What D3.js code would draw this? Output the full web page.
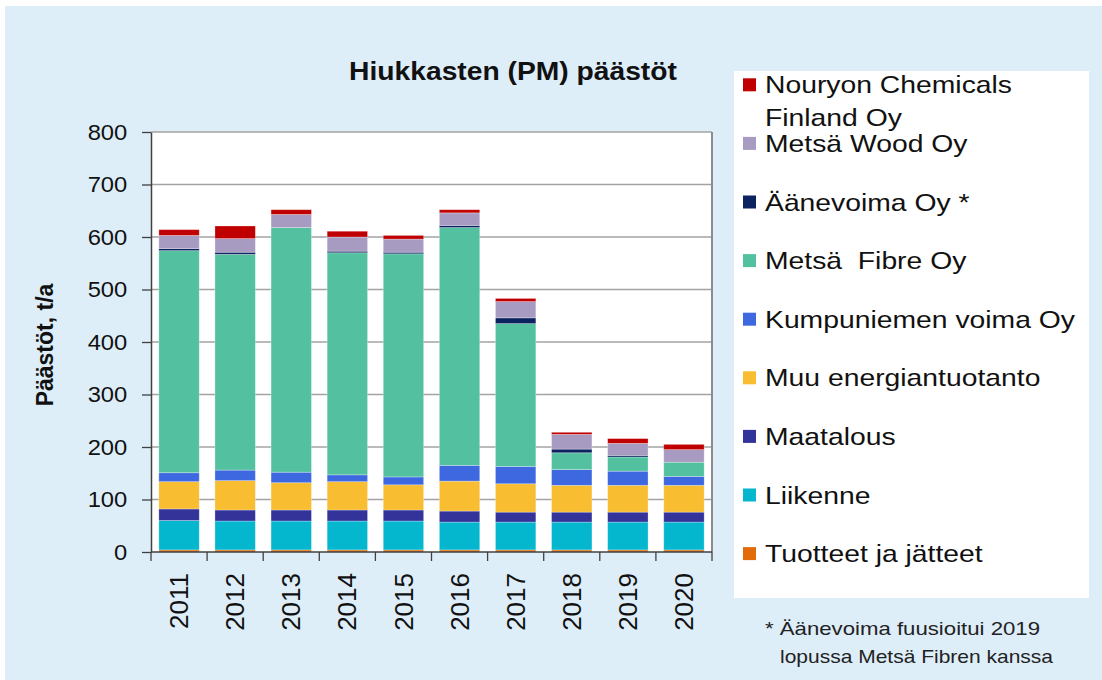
<!DOCTYPE html>
<html>
<head>
<meta charset="utf-8">
<script src="https://cdn.jsdelivr.net/npm/d3@7"></script>
<style>
  html, body { margin: 0; padding: 0; background: #ffffff; }
  svg { display: block; font-family: "Liberation Sans", Arial, sans-serif; }
</style>
</head>
<body>
<svg id="chart" width="1102" height="680"></svg>
<script>
// ---- data ----
const years = ["2011","2012","2013","2014","2015","2016","2017","2018","2019","2020"];
const yTicks = [0,100,200,300,400,500,600,700,800];
const seriesNames = ["Tuotteet ja jätteet","Liikenne","Maatalous","Muu energiantuotanto","Kumpuniemen voima Oy","Metsä  Fibre Oy","Äänevoima Oy *","Metsä Wood Oy","Nouryon Chemicals Finland Oy"];
const tuotteet   = [4, 4, 4, 4, 4, 4, 4, 4, 4, 4];
const liikenne   = [56, 55, 55, 55, 55, 53, 53, 53, 53, 53];
const maatalous  = [22, 21, 21, 21, 21, 21, 19, 19, 19, 19];
const muuEnergia = [52, 56, 52, 54, 48, 57, 54, 51, 51, 51];
const kumpuniemi = [17, 20, 20, 13, 15, 30, 33, 30, 27, 17];
const fibre      = [423, 411, 466, 423, 425, 453, 272, 32, 27, 27];
const aanevoima  = [4, 4, 0, 3, 3, 4, 11, 7, 3, 0];
const wood       = [25, 26, 25, 27, 25, 24, 31, 28, 23, 24];
const nouryon    = [11, 24, 9, 11, 7, 6, 6, 4, 9, 10];
const seriesValues = [tuotteet, liikenne, maatalous, muuEnergia, kumpuniemi, fibre, aanevoima, wood, nouryon];
const colors = ["#E36C0A","#04B7CE","#333399","#F8BD30","#3D68E0","#53C1A0","#0C2361","#A89BC1","#C00000"];
const title = "Hiukkasten (PM) päästöt";
const yTitle = "Päästöt, t/a";
const footnote = ["* Äänevoima fuusioitui 2019", "lopussa Metsä Fibren kanssa"];

// ---- build table ----
const keys = seriesNames;
const table = years.map((y, i) => {
  const row = { year: y };
  keys.forEach((k, j) => { row[k] = seriesValues[j][i]; });
  return row;
});
const stacked = d3.stack().keys(keys)(table);

const svg = d3.select("#chart");
const W = 1102, H = 680;

// background
svg.append("rect").attr("x", 5).attr("y", 6).attr("width", W - 5).attr("height", H - 6).attr("fill", "#DEEEF9");

const plot = { left: 151, right: 712, top: 132, bottom: 552 };

const x = d3.scaleBand().domain(years).range([plot.left, plot.right]).paddingInner(0.28).paddingOuter(0.14);
const y = d3.scaleLinear().domain([0, 800]).range([plot.bottom, plot.top]);

// plot area
svg.append("rect").attr("x", plot.left).attr("y", plot.top)
  .attr("width", plot.right - plot.left).attr("height", plot.bottom - plot.top).attr("fill", "#ffffff");

// gridlines
svg.append("g").selectAll("line").data(yTicks.filter(d => d > 0)).join("line")
  .attr("x1", plot.left).attr("x2", plot.right)
  .attr("y1", d => y(d)).attr("y2", d => y(d))
  .attr("stroke", "#A3A3A3").attr("stroke-width", 1.5);

// bars
svg.append("g").selectAll("g").data(stacked).join("g")
  .attr("fill", (d, i) => colors[i])
  .selectAll("rect").data(d => d).join("rect")
  .attr("x", d => x(d.data.year))
  .attr("width", x.bandwidth())
  .attr("y", d => y(d[1]))
  .attr("height", d => Math.max(0, y(d[0]) - y(d[1])))
  .attr("stroke", "rgba(255,255,255,0.35)").attr("stroke-width", 0.8);

// right border
svg.append("line").attr("x1", plot.right).attr("x2", plot.right)
  .attr("y1", plot.top).attr("y2", plot.bottom)
  .attr("stroke", "#8C8C8C").attr("stroke-width", 2);

// y axis
const yAxis = svg.append("g").attr("transform", `translate(${plot.left},0)`)
  .call(d3.axisLeft(y).tickValues(yTicks).tickSize(9).tickPadding(14).tickSizeOuter(0));
yAxis.select(".domain").attr("stroke", "#404040").attr("stroke-width", 1.5);
yAxis.selectAll(".tick line").attr("stroke", "#404040").attr("stroke-width", 1.3);
yAxis.selectAll(".tick text")
  .attr("font-family", "'Liberation Sans', Arial, sans-serif")
  .attr("font-size", 22).attr("fill", "#111")
  .attr("transform", "translate(-14,0) scale(1.08,1) translate(14,0)");

// x axis
const xAxisG = svg.append("g").attr("transform", `translate(0,${plot.bottom})`);
xAxisG.append("line").attr("x1", plot.left).attr("x2", plot.right).attr("y1", 0).attr("y2", 0)
  .attr("stroke", "#404040").attr("stroke-width", 1.5);
const step = x.step();
const boundaries = years.map(yr => x(yr) - (step - x.bandwidth()) / 2).concat([plot.right]);
xAxisG.selectAll("line.tk").data(boundaries).join("line").attr("class", "tk")
  .attr("x1", d => d).attr("x2", d => d).attr("y1", 0).attr("y2", 9)
  .attr("stroke", "#404040").attr("stroke-width", 1.3);
xAxisG.selectAll("text").data(years).join("text")
  .attr("transform", d => `translate(${x(d) + x.bandwidth() / 2},21) rotate(-90)`)
  .attr("text-anchor", "end").attr("dy", "0.35em")
  .attr("font-size", 26).attr("fill", "#111")
  .text(d => d);

// title
svg.append("text").attr("x", 513).attr("y", 80).attr("text-anchor", "middle")
  .attr("font-size", 25).attr("font-weight", "bold").attr("fill", "#111")
  .attr("transform", "translate(513,0) scale(1.13,1) translate(-513,0)")
  .text(title);

// y title
svg.append("text").attr("transform", "translate(53,345) rotate(-90)")
  .attr("text-anchor", "middle").attr("font-size", 23).attr("font-weight", "bold").attr("fill", "#111")
  .text(yTitle);

// legend
svg.append("rect").attr("x", 734).attr("y", 71).attr("width", 355).attr("height", 527).attr("fill", "#ffffff");
const legendOrder = d3.range(keys.length).reverse();
const lg = svg.append("g").selectAll("g").data(legendOrder).join("g")
  .attr("transform", (d, i) => `translate(0,${93.3 + i * 58.6})`);
lg.append("rect").attr("x", 743).attr("y", -15).attr("width", 13).attr("height", 13)
  .attr("fill", d => colors[d]);
lg.each(function(d) {
  const g = d3.select(this);
  const name = keys[d];
  const lines = name === "Nouryon Chemicals Finland Oy" ? ["Nouryon Chemicals", "Finland Oy"] : [name];
  const t = g.append("text").attr("x", 765).attr("y", 0).attr("font-size", 24).attr("fill", "#111")
    .attr("transform", "translate(765,0) scale(1.18,1) translate(-765,0)")
    .style("white-space", "pre");
  lines.forEach((ln, k) => {
    t.append("tspan").attr("x", 765).attr("dy", k === 0 ? 0 : 32.4).text(ln);
  });
});

// footnote
svg.append("text").attr("x", 765).attr("y", 635).attr("font-size", 19).attr("fill", "#222")
  .attr("textLength", 275).attr("lengthAdjust", "spacingAndGlyphs")
  .text(footnote[0]);
svg.append("text").attr("x", 780).attr("y", 663).attr("font-size", 19).attr("fill", "#222")
  .attr("textLength", 273).attr("lengthAdjust", "spacingAndGlyphs")
  .text(footnote[1]);
</script>
</body>
</html>
